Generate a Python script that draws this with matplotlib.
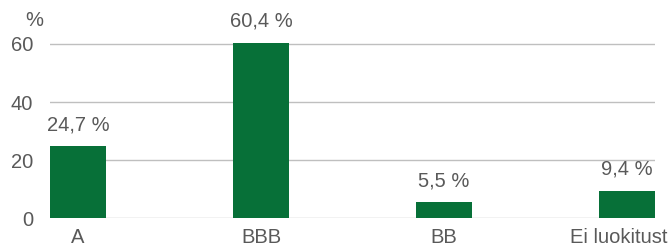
import matplotlib
matplotlib.use("Agg")
import matplotlib.pyplot as plt
from matplotlib.transforms import ScaledTranslation

categories = ["A", "BBB", "BB", "Ei luokitust"]
values = [24.7, 60.4, 5.5, 9.4]
labels = ["24,7 %", "60,4 %", "5,5 %", "9,4 %"]
yticks = [0, 20, 40, 60]

plt.rcParams['font.family'] = ['Liberation Sans', 'DejaVu Sans']
text_color = "#595959"
bar_color = "#077038"
grid_color = "#BFBFBF"
fs = 14.5

fig = plt.figure(figsize=(6.72, 2.5), dpi=100)
W, H = 672, 250
left, right = 50 / W, 655 / W
bottom = (H - 218) / H
top = (H - (218 - 66 * 2.9)) / H
ax = fig.add_axes([left, bottom, right - left, top - bottom])

x = list(range(len(categories)))
bw = 0.3065
ax.bar(x, values, width=bw, color=bar_color, zorder=3)
ax.set_xlim(-bw / 2, len(categories) - 1 + bw / 2)
ax.set_ylim(0, 66)
ax.set_yticks(yticks)
ax.set_yticklabels([str(t) for t in yticks])
ax.set_xticks(x)
ax.set_xticklabels(categories)
ax.grid(axis='y', color=grid_color, linewidth=1.0, zorder=0)
for s in ax.spines.values():
    s.set_visible(False)
ax.tick_params(axis='both', length=0, labelsize=fs, colors=text_color)
ax.tick_params(axis='y', pad=12)
ax.tick_params(axis='x', pad=7)

# shift the last category label left so it fits inside the figure
last = ax.get_xticklabels()[-1]
last.set_transform(last.get_transform() + ScaledTranslation(-8 / 100, 0, fig.dpi_scale_trans))

for xi, v, lab in zip(x, values, labels):
    ax.annotate(lab, (xi, v), xytext=(0, 15.5), textcoords='offset points',
                ha='center', va='center', fontsize=fs, color=text_color,
                annotation_clip=False)

fig.text(34 / W, 1 - 21 / H, "%", ha='center', va='center', fontsize=fs, color=text_color)

fig.savefig("out.png", dpi=100)
